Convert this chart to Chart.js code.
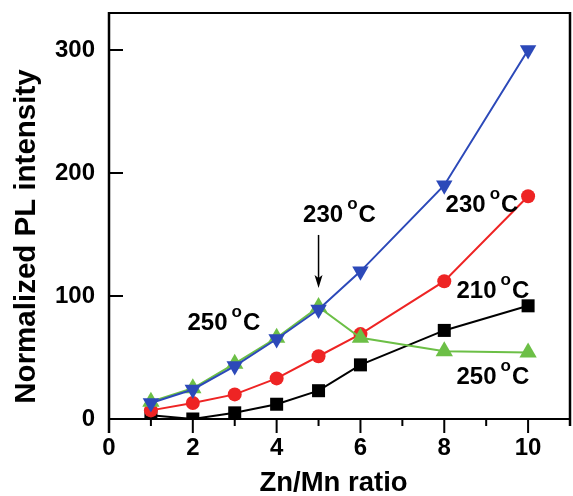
<!DOCTYPE html>
<html><head><meta charset="utf-8">
<script src="https://cdn.jsdelivr.net/npm/chart.js@4/dist/chart.umd.min.js"></script>
<style>html,body{margin:0;padding:0;background:#fff}</style>
</head><body>
<canvas id="c" width="573" height="496"></canvas>
<script>
// ---- data ----
const znMnRatio = [1, 2, 3, 4, 5, 6, 8, 10];
const pl210 = [3, 0, 5, 12, 23, 44, 72, 92];
const pl230Red = [7, 13, 20, 33, 51, 69, 112, 181];
const pl230Blue = [13, 24, 43, 65, 89, 120, 190, 300];
const pl250 = [14, 25, 45, 66, 91, 66, 55, 54];
const xTickValues = [0, 2, 4, 6, 8, 10];
const yTickValues = [0, 100, 200, 300];
const annotations = [
  { num: '250', x: 2.74, y: 72.3 },
  { num: '230', x: 5.50, y: 160.4 },
  { num: '230', x: 8.90, y: 168.5 },
  { num: '210', x: 9.16, y: 98.3 },
  { num: '250', x: 9.16, y: 28.4 }
];
const arrow = { x: 5, yFrom: 149.6, yTo: 106.5 };
const yTitle = 'Normalized PL intensity';
const xTitle = 'Zn/Mn ratio';

const FONT = "'Liberation Sans', Arial, Helvetica, sans-serif";
const BLUE = '#2c49b9', RED = '#ee2424', GREEN = '#6cbf46', BLACK = '#000000';

const toPts = (ys) => znMnRatio.map((x, i) => ({ x, y: ys[i] }));

const axesPlugin = {
  id: 'axesPlugin',
  afterDatasetsDraw(chart) {
    const { ctx, chartArea: a, scales: { x, y } } = chart;
    ctx.save();
    ctx.strokeStyle = '#000';
    ctx.lineCap = 'butt';
    // frame
    ctx.lineWidth = 2;
    ctx.beginPath();
    ctx.moveTo(a.left, a.top); ctx.lineTo(a.right, a.top);
    ctx.moveTo(a.left, a.bottom); ctx.lineTo(a.right, a.bottom);
    ctx.stroke();
    ctx.lineWidth = 2.5;
    ctx.beginPath();
    ctx.moveTo(a.left, a.top - 1); ctx.lineTo(a.left, a.bottom + 14);
    ctx.moveTo(a.right, a.top - 1); ctx.lineTo(a.right, a.bottom + 7);
    ctx.stroke();
    // x ticks (outward)
    ctx.lineWidth = 2;
    ctx.beginPath();
    for (let v = 1; v < 11; v++) {
      const px = x.getPixelForValue(v);
      ctx.moveTo(px, a.bottom); ctx.lineTo(px, a.bottom + (v % 2 === 0 ? 14 : 7));
    }
    // y ticks (inward)
    yTickValues.forEach(v => {
      const py = y.getPixelForValue(v);
      ctx.moveTo(a.left, py); ctx.lineTo(a.left + 14, py);
    });
    ctx.stroke();

    // arrow
    const ax = x.getPixelForValue(arrow.x);
    const ay1 = y.getPixelForValue(arrow.yFrom), ay2 = y.getPixelForValue(arrow.yTo);
    ctx.lineWidth = 1.5;
    ctx.beginPath();
    ctx.moveTo(ax, ay1); ctx.lineTo(ax, ay2 - 10);
    ctx.stroke();
    ctx.fillStyle = '#000';
    ctx.beginPath();
    ctx.moveTo(ax, ay2); ctx.lineTo(ax - 4, ay2 - 13); ctx.lineTo(ax, ay2 - 10); ctx.lineTo(ax + 4, ay2 - 13);
    ctx.closePath(); ctx.fill();

    // temperature labels
    ctx.fillStyle = '#000';
    ctx.textBaseline = 'alphabetic';
    ctx.textAlign = 'left';
    annotations.forEach(an => {
      const cx = x.getPixelForValue(an.x), by = y.getPixelForValue(an.y);
      ctx.font = `bold 24px ${FONT}`;
      const wN = ctx.measureText(an.num).width;
      const wC = ctx.measureText('C').width;
      ctx.font = `bold 17px ${FONT}`;
      const wO = ctx.measureText('o').width;
      const gap1 = 4, gap2 = 1;
      const total = wN + gap1 + wO + gap2 + wC;
      let sx = cx - total / 2;
      ctx.font = `bold 24px ${FONT}`;
      ctx.fillText(an.num, sx, by);
      sx += wN + gap1;
      ctx.font = `bold 17px ${FONT}`;
      ctx.fillText('o', sx, by - 13);
      sx += wO + gap2;
      ctx.font = `bold 24px ${FONT}`;
      ctx.fillText('C', sx, by);
    });

    // y-axis title
    ctx.save();
    ctx.font = `bold 29.5px ${FONT}`;
    ctx.textAlign = 'center';
    ctx.textBaseline = 'alphabetic';
    ctx.translate(35, 236.5);
    ctx.rotate(-Math.PI / 2);
    ctx.fillText(yTitle, 0, 0);
    ctx.restore();

    // x-axis title
    ctx.font = `bold 27.5px ${FONT}`;
    ctx.textAlign = 'center';
    ctx.textBaseline = 'alphabetic';
    ctx.fillText(xTitle, 333.5, 491);
    ctx.restore();
  }
};

const ds = (label, data, color, style, radius, rotation, order) => ({
  label, data: toPts(data),
  borderColor: color, backgroundColor: color,
  pointBackgroundColor: color, pointBorderColor: color,
  pointStyle: style, pointRadius: radius, pointRotation: rotation, pointBorderWidth: 0,
  borderWidth: 2, tension: 0, fill: false, order,
  clip: { left: 20, right: 20, top: 20, bottom: 0 }
});

const zeroPad = (s) => { s.paddingTop = 0; s.paddingBottom = 0; s.paddingLeft = 0; s.paddingRight = 0; };

new Chart(document.getElementById('c'), {
  type: 'line',
  data: {
    datasets: [
      ds('230 °C (blue)', pl230Blue, BLUE, 'triangle', 9.5, 180, 0),
      ds('250 °C', pl250, GREEN, 'triangle', 10, 0, 1),
      ds('230 °C (red)', pl230Red, RED, 'circle', 7, 0, 2),
      ds('210 °C', pl210, BLACK, 'rect', 9.2, 0, 3)
    ]
  },
  options: {
    responsive: false, animation: false, devicePixelRatio: 1,
    layout: { autoPadding: false, padding: { top: 13, right: 3, left: 0, bottom: 0 } },
    plugins: { legend: { display: false }, tooltip: { enabled: false } },
    scales: {
      x: {
        type: 'linear', min: 0, max: 11,
        afterFit(s) { s.height = 77; zeroPad(s); },
        afterBuildTicks(s) { s.ticks = xTickValues.map(v => ({ value: v })); },
        grid: { display: false, drawTicks: false }, border: { display: false },
        ticks: { color: '#000', font: { family: FONT, size: 24, weight: 'bold' }, padding: 15, maxRotation: 0, autoSkip: false },
        title: { display: false, text: xTitle }
      },
      y: {
        type: 'linear', min: 0, max: 330,
        afterFit(s) { s.width = 109; zeroPad(s); },
        afterBuildTicks(s) { s.ticks = yTickValues.map(v => ({ value: v })); },
        grid: { display: false, drawTicks: false }, border: { display: false },
        ticks: { color: '#000', font: { family: FONT, size: 24, weight: 'bold' }, padding: 14, autoSkip: false },
        title: { display: false, text: yTitle }
      }
    }
  },
  plugins: [axesPlugin]
});
</script>
</body></html>
